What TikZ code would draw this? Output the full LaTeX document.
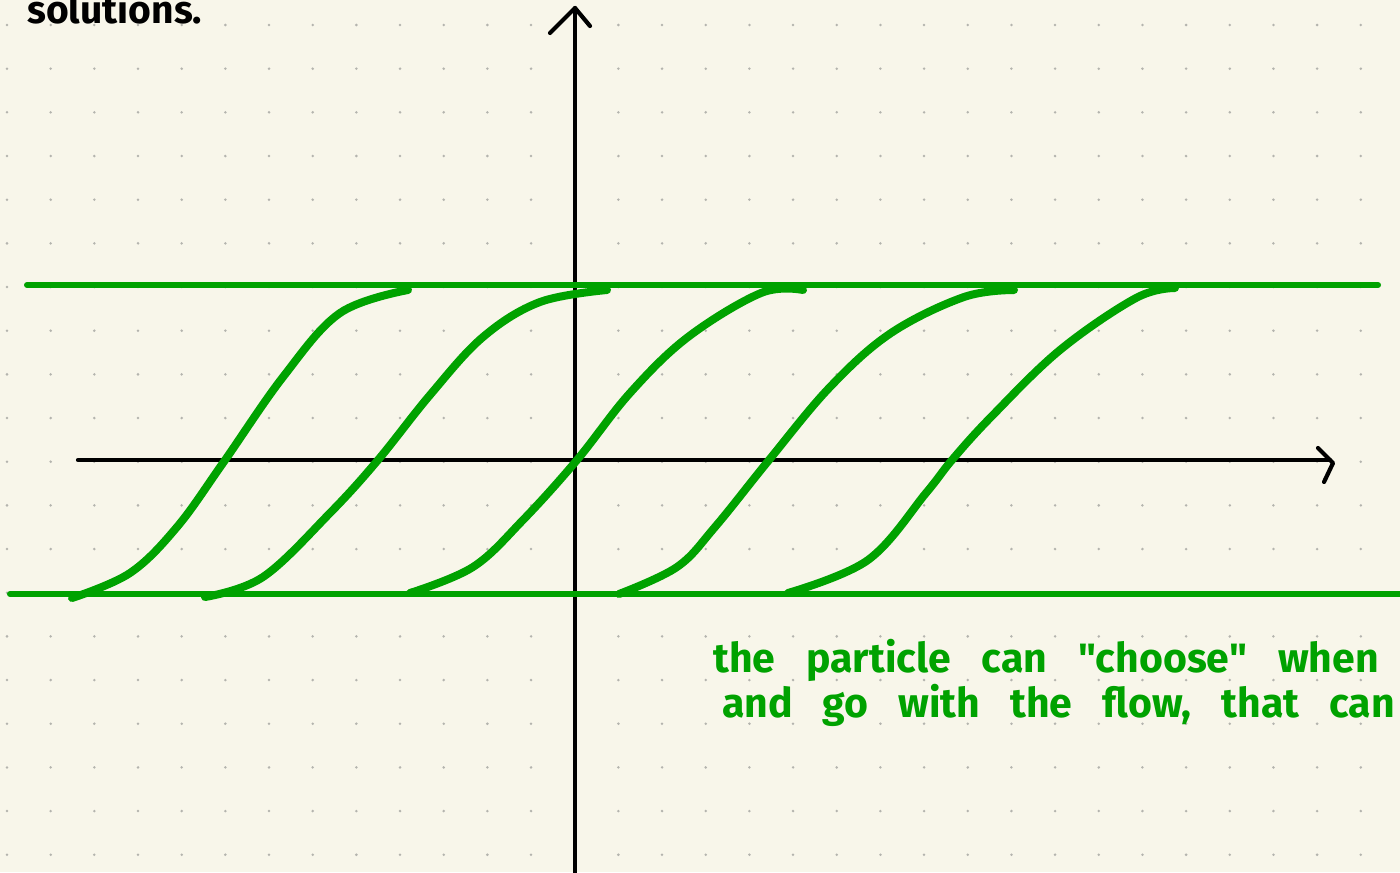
\documentclass[tikz,border=0pt]{standalone}
\usepackage{fontspec}
\setmainfont{Fira Sans}
\newfontfamily\notefont{Fira Sans}[Ligatures=TeXOff]
\definecolor{bg}{RGB}{248,246,234}
\definecolor{ink}{RGB}{0,162,0}
\definecolor{dotc}{RGB}{180,180,174}
\begin{document}
\begin{tikzpicture}[x=1bp,y=-1bp, line cap=round, line join=round,
  axisline/.style={draw=black, line width=4.2bp},
  bound/.style={draw=ink, line width=6bp},
  sol/.style={draw=ink, line width=8bp, smooth, tension=0.6},
  note/.style={anchor=base west, inner sep=0pt, text=ink, font=\notefont\bfseries\fontsize{41bp}{41bp}\selectfont},
]
\useasboundingbox (0,0) rectangle (1400,872);
\fill[bg] (0,0) rectangle (1400,872);
\clip (0,0) rectangle (1400,872);
% dot grid
\foreach \i in {0,...,31}{\foreach \j in {0,...,19}{%
  \fill[dotc] ({7+43.67*\i},{25+43.67*\j}) circle (1.4bp);}}
% heading text
\node[anchor=base west, inner sep=0pt, font=\bfseries\fontsize{39bp}{39bp}\selectfont] (head) at (27,23) {solutions.};
% axes
\coordinate (ybot) at (575,880);
\coordinate (ytop) at (575,8);
\coordinate (yl) at (550,33);
\coordinate (yr) at (590,26);
\coordinate (xl) at (78,460);
\coordinate (xr) at (1333,463);
\coordinate (xu) at (1318,448);
\coordinate (xd) at (1324,482);
\draw[axisline] (ybot) -- (ytop);
\draw[axisline] (yl) -- (ytop) -- (yr);
\draw[axisline] (xl) -- (1330,460);
\draw[axisline] (xu) -- (xr) -- (xd);
% bounding equilibria
\coordinate (tl) at (27,285);
\coordinate (tr) at (1378,285);
\coordinate (bl) at (10,594);
\coordinate (br) at (1410,594);
\draw[bound] (tl) -- (tr);
\draw[bound] (bl) -- (br);
% solution curves
\draw[sol] plot coordinates {(72,598) (130,573) (177,527) (223,463) (283,377) (340,313) (408,290)};
\draw[sol] plot coordinates {(205,597) (263,577) (330,513) (378,460) (430,395) (483,337) (540,302) (607,290)};
\draw[sol] plot coordinates {(410,593) (473,567) (523,520) (577,460) (630,393) (688,337) (761,293) (803,290)};
\draw[sol] plot coordinates {(619,594) (677,567) (715,527) (769,460) (830,387) (891,333) (964,297) (1014,290)};
\draw[sol] plot coordinates {(788,593) (868,560) (926,493) (952,460) (991,417) (1060,350) (1136,298) (1175,288)};
% note
\node[note] (n1) at (713,672) {\spaceskip=31bp the particle can "choose" when};
\node[note] (n2) at (722,717) {\spaceskip=30bp and go with the flow, that can};
\end{tikzpicture}
\end{document}
